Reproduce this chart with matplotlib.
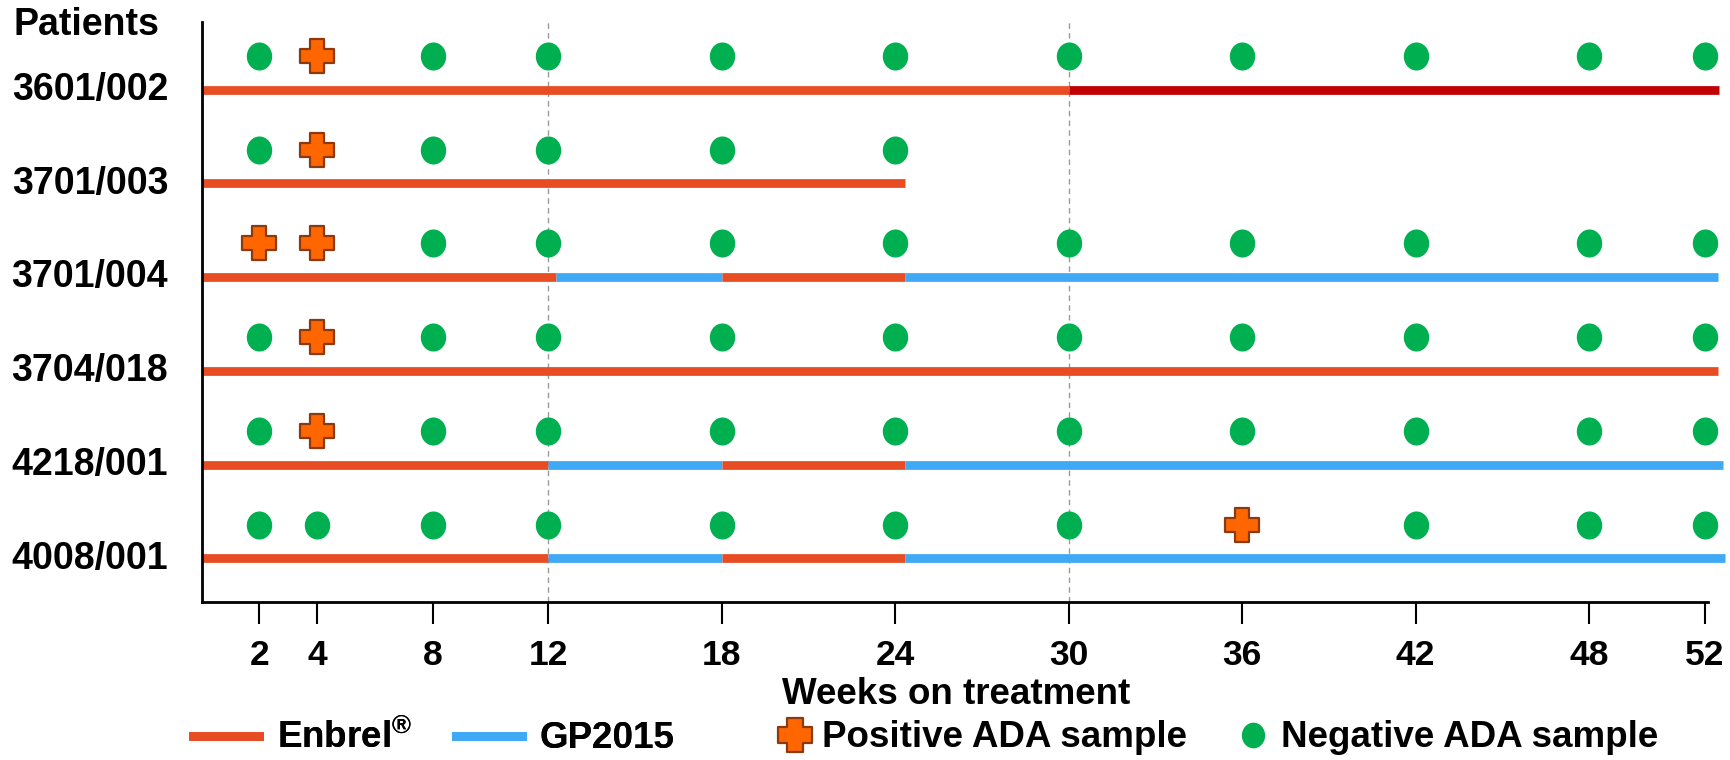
import numpy as np
import matplotlib
matplotlib.use('Agg')
import matplotlib.pyplot as plt
from matplotlib.path import Path
from matplotlib.lines import Line2D

# ---- data ----
patients = ['3601/002', '3701/003', '3701/004', '3704/018', '4218/001', '4008/001']
week_ticks = [2, 4, 8, 12, 18, 24, 30, 36, 42, 48, 52]
visit_lines = [12, 30]

# treatment periods per patient: (start week, end week, drug)
periods_3601_002 = [(0, 30, 'Enbrel'), (30, 52.5, 'Other')]
periods_3701_003 = [(0, 24.35, 'Enbrel')]
periods_3701_004 = [(0, 12.25, 'Enbrel'), (12.25, 18, 'GP2015'),
                    (18, 24.35, 'Enbrel'), (24.35, 52.45, 'GP2015')]
periods_3704_018 = [(0, 52.45, 'Enbrel')]
periods_4218_001 = [(0, 12.0, 'Enbrel'), (12.0, 18, 'GP2015'),
                    (18, 24.35, 'Enbrel'), (24.35, 52.65, 'GP2015')]
periods_4008_001 = [(0, 12.0, 'Enbrel'), (12.0, 18, 'GP2015'),
                    (18, 24.35, 'Enbrel'), (24.35, 52.7, 'GP2015')]
periods = [periods_3601_002, periods_3701_003, periods_3701_004,
           periods_3704_018, periods_4218_001, periods_4008_001]

# ADA samples per patient (weeks)
positive_weeks = [[4], [4], [2, 4], [4], [4], [36]]
negative_weeks = [[2, 8, 12, 18, 24, 30, 36, 42, 48, 52],
                  [2, 8, 12, 18, 24],
                  [8, 12, 18, 24, 30, 36, 42, 48, 52],
                  [2, 8, 12, 18, 24, 30, 36, 42, 48, 52],
                  [2, 8, 12, 18, 24, 30, 36, 42, 48, 52],
                  [2, 4, 8, 12, 18, 24, 30, 42, 48, 52]]

# ---- style ----
drug_colors = {'Enbrel': '#E84C22', 'GP2015': '#3FA9F5', 'Other': '#C00000'}
plus_fill = '#FF6600'
plus_edge = '#8B3A0F'
neg_green = '#00B050'

plt.rcParams['font.family'] = ['Liberation Sans', 'DejaVu Sans']
plt.rcParams['font.weight'] = 'bold'
plt.rcParams['mathtext.fontset'] = 'custom'
plt.rcParams['mathtext.rm'] = 'Liberation Sans:bold'
plt.rcParams['mathtext.default'] = 'rm'

# fat plus marker (arms thicker than matplotlib's 'P')
a = 0.22
plus_path = Path([(-a, -0.5), (a, -0.5), (a, -a), (0.5, -a), (0.5, a), (a, a),
                  (a, 0.5), (-a, 0.5), (-a, a), (-0.5, a), (-0.5, -a), (-a, -a),
                  (-a, -0.5)], closed=True)
# slightly tall ellipse for the negative samples
circ = Path.unit_circle()
oval_path = Path(circ.vertices * [0.9, 1.0], circ.codes)

marker_offset = 0.36
lw_bar = 6.3
legend_prop = {'weight': 'bold', 'size': 26.5}


def draw_chart():
    fig = plt.figure(figsize=(17.3, 7.6), dpi=100)
    ax = fig.add_axes([0.1165, 0.2073, 0.8822, 0.7637])

    # dashed reference lines at week 12 and 30
    for w in visit_lines:
        ax.axvline(w, color='#9A9A9A', ls=(0, (4, 3)), lw=1.0, zorder=1)

    for i, plist in enumerate(periods):
        y = -i
        for start, end, drug in plist:
            ax.plot([start, end], [y, y], color=drug_colors[drug], lw=lw_bar,
                    solid_capstyle='butt', clip_on=False, zorder=2)
        ax.plot(negative_weeks[i], [y + marker_offset] * len(negative_weeks[i]),
                ls='none', marker=oval_path, ms=19.2, color=neg_green,
                mec=neg_green, clip_on=False, zorder=3)
        ax.plot(positive_weeks[i], [y + marker_offset] * len(positive_weeks[i]),
                ls='none', marker=plus_path, ms=24, mfc=plus_fill,
                mec=plus_edge, mew=1.6, clip_on=False, zorder=4)

    ax.set_xlim(0, 52.8)
    ax.set_ylim(-5.47, 0.72)

    ax.spines['top'].set_visible(False)
    ax.spines['right'].set_visible(False)
    ax.spines['left'].set_linewidth(2)
    ax.spines['bottom'].set_linewidth(2)
    ax.spines['bottom'].set_bounds(0, 52.1)

    ax.set_xticks(week_ticks)
    ax.set_xticklabels([str(w) for w in week_ticks])
    ax.tick_params(axis='x', direction='out', length=16, width=1.5,
                   pad=10, labelsize=25.5)

    ax.set_yticks([-i + 0.04 for i in range(len(patients))])
    ax.set_yticklabels(patients)
    ax.tick_params(axis='y', length=0, pad=24, labelsize=27)

    fig.text(13 / 1730, 1 - 25 / 760, 'Patients', fontsize=27,
             fontweight='bold', ha='left', va='center')
    fig.text(956 / 1730, 1 - 695 / 760, 'Weeks on treatment', fontsize=26.5,
             fontweight='bold', ha='center', va='center')

    # legend: treatment lines on the left, sample markers on the right
    line_handles = [Line2D([], [], color=drug_colors['Enbrel'], lw=lw_bar),
                    Line2D([], [], color=drug_colors['GP2015'], lw=lw_bar)]
    leg1 = fig.legend(line_handles, [r'Enbrel$^{®}$', 'GP2015'],
                      loc='center left', bbox_to_anchor=(0.1116, 0.029),
                      ncol=2, frameon=False, borderpad=0, borderaxespad=0,
                      handlelength=1.8, handletextpad=0.49, columnspacing=1.17,
                      prop=legend_prop)
    mark_handles = [Line2D([], [], ls='none', marker=plus_path, ms=25,
                           mfc=plus_fill, mec=plus_edge, mew=1.6),
                    Line2D([], [], ls='none', marker=oval_path, ms=17.5,
                           color=neg_green)]
    fig.legend(mark_handles, ['Positive ADA sample', 'Negative ADA sample'],
               loc='center left', bbox_to_anchor=(0.4497, 0.029),
               ncol=2, frameon=False, borderpad=0, borderaxespad=0,
               handlelength=0.9, handletextpad=0.3, columnspacing=1.35,
               prop=legend_prop)
    fig.add_artist(leg1)

    fig.savefig('out.png', dpi=100)


draw_chart()
